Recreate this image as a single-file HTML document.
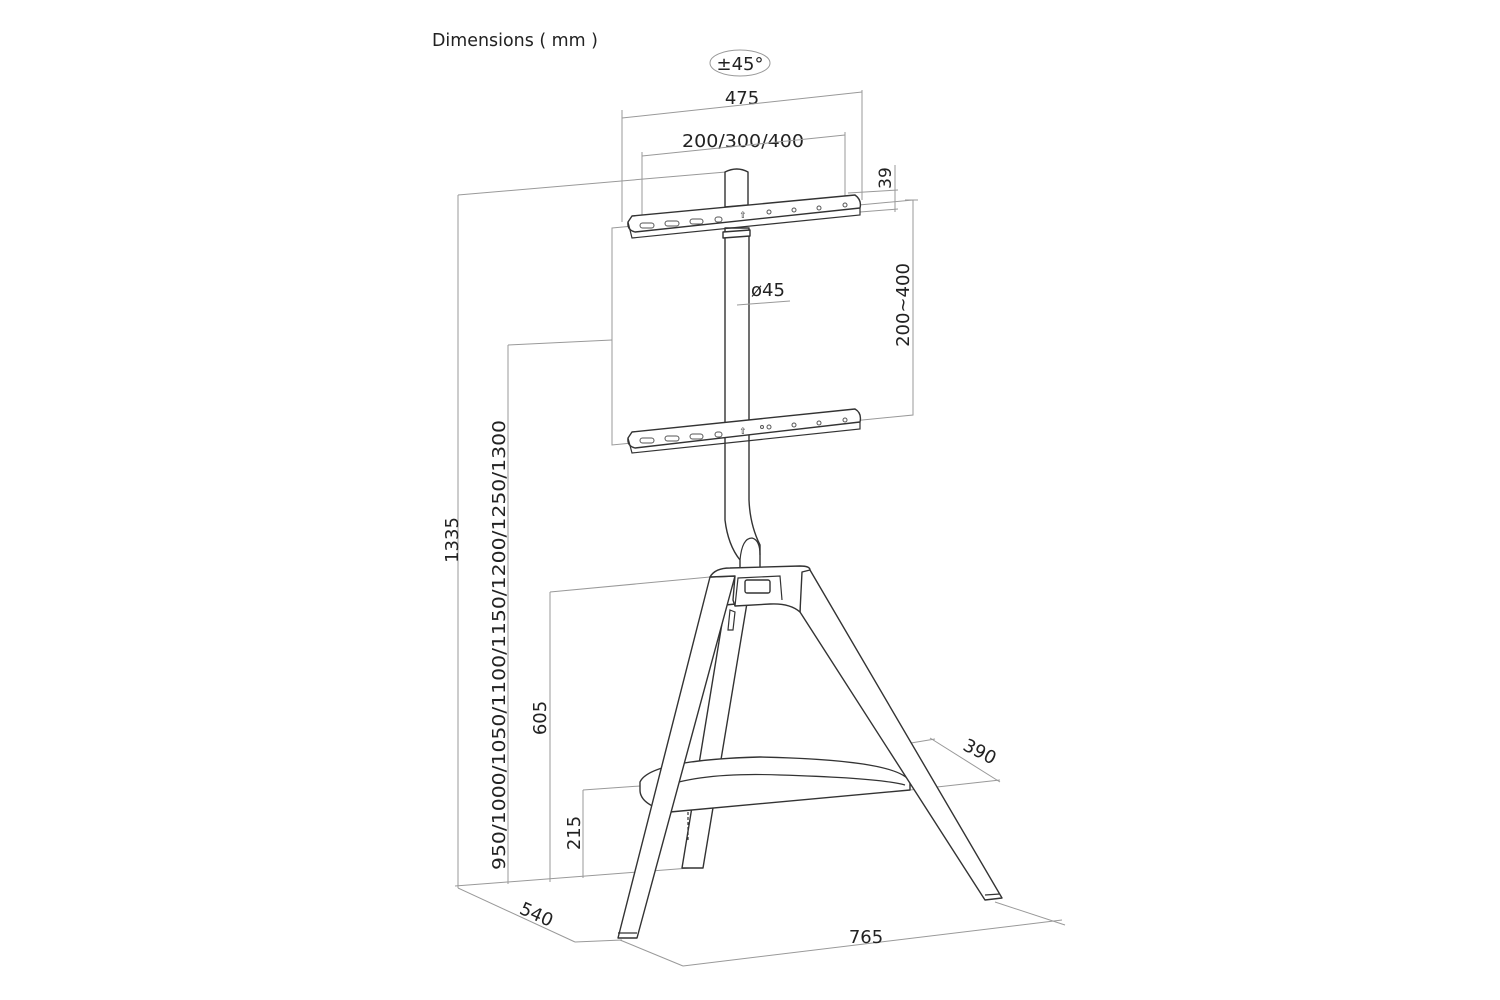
<!DOCTYPE html>
<html><head><meta charset="utf-8"><style>
html,body{margin:0;padding:0;background:#fff;}
svg{display:block;}
text{font-family:"DejaVu Sans","Liberation Sans",sans-serif;fill:#222;}
.d{stroke:#999;stroke-width:1;fill:none;}
.o{stroke:#333;stroke-width:1.4;fill:#fff;stroke-linejoin:round;}
.l{stroke:#333;stroke-width:1.2;fill:none;}
.h{stroke:#555;stroke-width:1;fill:#fff;}
</style></head><body>
<svg width="1500" height="1000" viewBox="0 0 1500 1000" xmlns="http://www.w3.org/2000/svg">
<text x="432" y="46" font-size="18" textLength="166" lengthAdjust="spacingAndGlyphs">Dimensions ( mm )</text>
<ellipse cx="740" cy="63" rx="30" ry="13" class="d"/>
<text x="740" y="70" font-size="18" text-anchor="middle">±45°</text>

<!-- top dims -->
<text x="742" y="104" font-size="18" text-anchor="middle">475</text>
<line x1="622" y1="118" x2="862" y2="92" class="d"/>
<line x1="622" y1="110" x2="622" y2="222" class="d"/>
<line x1="862" y1="90" x2="862" y2="200" class="d"/>
<text x="743" y="147" font-size="18" text-anchor="middle" textLength="122" lengthAdjust="spacingAndGlyphs">200/300/400</text>
<line x1="642" y1="156" x2="845" y2="135" class="d"/>
<line x1="642" y1="152" x2="642" y2="222" class="d"/>
<line x1="845" y1="132" x2="845" y2="198" class="d"/>
<text transform="translate(891,178) rotate(-90)" font-size="17" text-anchor="middle">39</text>
<line x1="848" y1="193" x2="898" y2="190" class="d"/>
<line x1="860" y1="212" x2="898" y2="209" class="d"/>
<line x1="895" y1="165" x2="895" y2="212" class="d"/>

<!-- big dims -->
<line x1="458" y1="195" x2="726" y2="172" class="d"/>
<line x1="458" y1="195" x2="458" y2="888" class="d"/>
<text transform="translate(458,540) rotate(-90)" font-size="18" text-anchor="middle">1335</text>
<line x1="508" y1="345" x2="612" y2="340" class="d"/>
<line x1="508" y1="345" x2="508" y2="884" class="d"/>
<text transform="translate(505,645) rotate(-90)" font-size="18" text-anchor="middle" textLength="450" lengthAdjust="spacingAndGlyphs">950/1000/1050/1100/1150/1200/1250/1300</text>
<line x1="550" y1="592" x2="710" y2="577" class="d"/>
<line x1="550" y1="592" x2="550" y2="882" class="d"/>
<text transform="translate(546,718) rotate(-90)" font-size="18" text-anchor="middle">605</text>
<line x1="583" y1="790" x2="640" y2="786" class="d"/>
<line x1="583" y1="790" x2="583" y2="878" class="d"/>
<text transform="translate(580,833) rotate(-90)" font-size="18" text-anchor="middle">215</text>
<line x1="455" y1="886" x2="690" y2="868" class="d"/>
<line x1="458" y1="888" x2="575" y2="942" class="d"/>
<text transform="translate(534,920) rotate(24)" font-size="18" text-anchor="middle">540</text>
<line x1="575" y1="942" x2="622" y2="940" class="d"/>
<line x1="620" y1="940" x2="683" y2="966" class="d"/>
<line x1="683" y1="966" x2="1062" y2="920" class="d"/>
<line x1="995" y1="902" x2="1065" y2="925" class="d"/>
<text x="866" y="943" font-size="18" text-anchor="middle">765</text>
<line x1="930" y1="738" x2="1000" y2="782" class="d"/>
<line x1="905" y1="744" x2="935" y2="739" class="d"/>
<line x1="910" y1="790" x2="1000" y2="780" class="d"/>
<text transform="translate(977,757) rotate(27)" font-size="18" text-anchor="middle">390</text>

<!-- screen plate -->
<path d="M612 228 L913 200 L913 415 L612 445 Z" class="d"/>
<text transform="translate(909,305) rotate(-90)" font-size="18" text-anchor="middle">200~400</text>
<line x1="905" y1="200" x2="918" y2="200" class="d"/>

<!-- pole -->
<path d="M725 228 L725 520 Q728 545 740 560 L740 570 L760 570 L760 545 Q750 525 749 500 L749 228 Z" class="o"/>
<path d="M740 560 Q742 538 752 538 Q760 540 760 555" class="l"/>
<line x1="737" y1="305" x2="790" y2="301" class="d"/>
<text x="768" y="296" font-size="18" text-anchor="middle">ø45</text>

<!-- top bracket -->
<path d="M725 172 Q737 166 748 172 L748 205 L725 207 Z" class="o"/>
<path d="M632 216 L855 195 Q862 200 860 208 L635 232 Q627 230 628 222 Z" class="o"/>
<path d="M628 222 L632 238 L860 215 L860 208" class="l"/>
<path d="M723 232 L750 230 L750 236 L723 238 Z" class="o"/>
<g class="h">
<rect x="640" y="223" width="14" height="5" rx="2.5"/>
<rect x="665" y="221" width="14" height="5" rx="2.5"/>
<rect x="690" y="219" width="13" height="5" rx="2.5"/>
<rect x="715" y="217" width="7" height="5" rx="2.5"/>
<circle cx="769" cy="212" r="2"/><circle cx="794" cy="210" r="2"/><circle cx="819" cy="208" r="2"/><circle cx="845" cy="205" r="2"/>
</g>
<text x="743" y="218" font-size="9" text-anchor="middle">⇧</text>

<!-- bottom bracket -->
<path d="M632 432 L855 409 Q862 413 860 422 L635 448 Q627 446 628 438 Z" class="o"/>
<path d="M628 438 L632 453 L860 429 L860 422" class="l"/>
<g class="h">
<rect x="640" y="438" width="14" height="5" rx="2.5"/>
<rect x="665" y="436" width="14" height="5" rx="2.5"/>
<rect x="690" y="434" width="13" height="5" rx="2.5"/>
<rect x="715" y="432" width="7" height="5" rx="2.5"/>
<circle cx="762" cy="427" r="1.5"/><circle cx="769" cy="427" r="2"/><circle cx="794" cy="425" r="2"/><circle cx="819" cy="423" r="2"/><circle cx="845" cy="420" r="2"/>
</g>
<text x="743" y="434" font-size="9" text-anchor="middle">⇧</text>

<!-- back leg -->
<path d="M725 605 L747 603 L703 868 L682 868 Z" class="o"/>
<path d="M688 840 l0 -28" class="l" stroke-dasharray="3 2"/>
<!-- shelf -->
<path d="M640 782 Q650 760 760 757 Q900 760 910 782 L910 790 L670 812 Q640 805 640 790 Z" class="o"/>
<path d="M660 788 Q700 772 780 775 Q880 778 905 785" class="l"/>
<!-- front left leg -->
<path d="M710 577 L735 576 L637 938 L618 938 Z" class="o"/>
<line x1="618" y1="933" x2="637" y2="933" class="l"/>
<!-- right leg -->
<path d="M800 568 L810 570 L1002 898 L985 900 L800 612 Z" class="o"/>
<line x1="985" y1="895" x2="1000" y2="894" class="l"/>
<!-- hub -->
<path d="M710 577 Q715 568 730 568 L800 566 Q810 566 810 570 L802 572 L800 612 Q790 603 770 604 L735 606 L733 600 L735 576 Z" class="o"/>
<path d="M735 606 L738 578 L780 576 L782 600" class="l"/>
<rect x="745" y="580" width="25" height="13" rx="2" class="o"/>
<path d="M730 610 L735 612 L733 630 L728 630 Z" class="l"/>
</svg>
</body></html>
